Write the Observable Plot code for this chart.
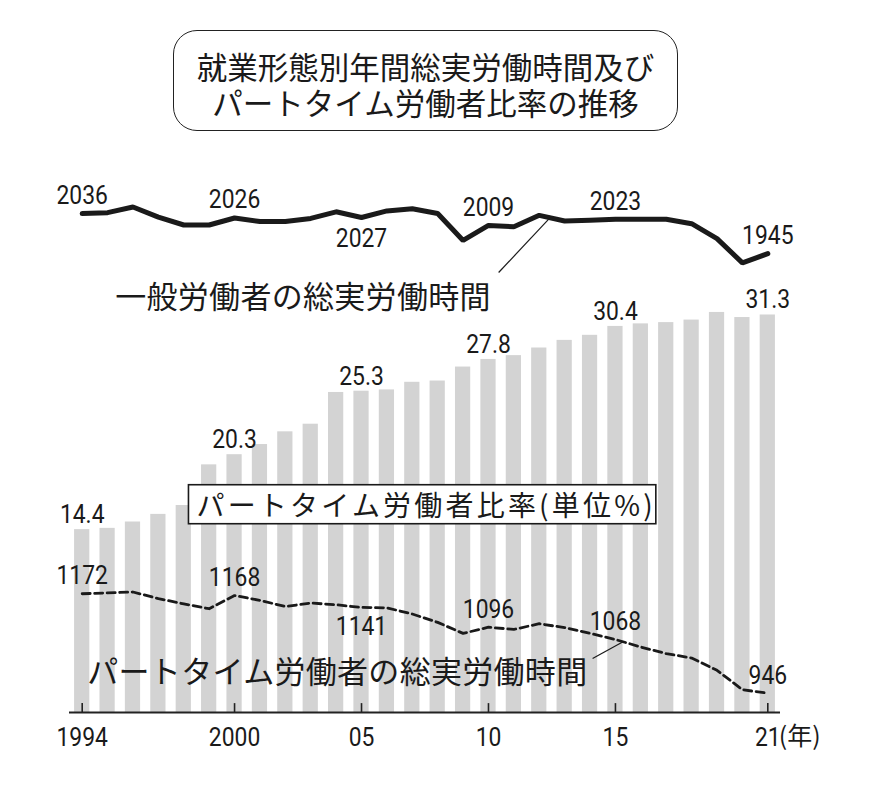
<!DOCTYPE html>
<html>
<head>
<meta charset="utf-8">
<script src="https://cdn.jsdelivr.net/npm/d3@7"></script>
<script src="https://cdn.jsdelivr.net/npm/@observablehq/plot@0.6"></script>
<style>
  html, body { margin: 0; padding: 0; background: #fff; }
  body { width: 870px; height: 786px; position: relative; overflow: hidden; }
  #title {
    position: absolute; left: 173px; top: 30px; width: 503px; height: 93px;
    border: 1.6px solid #222; border-radius: 24px; box-sizing: content-box;
    font-family: "Noto Sans CJK JP", sans-serif; font-size: 30.5px; line-height: 36px;
    color: #1a1a1a; text-align: center; padding-top: 6px;
    display: flex; flex-direction: column; justify-content: center;
  }
  #title div { height: 36px; line-height: 36px; white-space: nowrap; }
  #chart { position: absolute; left: 0; top: 140px; }
</style>
</head>
<body>
<div id="title"><div>就業形態別年間総実労働時間及び</div><div>パートタイム労働者比率の推移</div></div>
<div id="chart"></div>
<script>
// ---- data ----
const years = d3.range(1994, 2022);
const partRatio = [14.4, 14.5, 15.0, 15.6, 16.3, 19.5, 20.3, 21.1, 22.1, 22.7,
                   25.2, 25.3, 25.4, 26.0, 26.1, 27.2, 27.8, 28.1, 28.7, 29.3,
                   29.7, 30.4, 30.6, 30.7, 30.9, 31.5, 31.1, 31.3];
const generalHours = [2036, 2038, 2051, 2028, 2010, 2010, 2026, 2018, 2018, 2025,
                      2040, 2027, 2042, 2047, 2036, 1975, 2009, 2006, 2032, 2019,
                      2021, 2023, 2023, 2023, 2013, 1979, 1924, 1945];
const partHours = [1172, 1174, 1176, 1161, 1149, 1138, 1168, 1157, 1143, 1151,
                   1147, 1141, 1140, 1126, 1107, 1082, 1096, 1091, 1104, 1095,
                   1082, 1068, 1051, 1036, 1026, 998, 954, 946];
const ratioLabelYears = [1994, 2000, 2005, 2010, 2015, 2021];
const generalLabelYearsAbove = [1994, 2000, 2010, 2015, 2021];
const generalLabelYearsBelow = [2005];
const partLabelYearsAbove = [1994, 2000, 2010, 2015, 2021];
const partLabelYearsBelow = [2005];
const tickYears = [1994, 2000, 2005, 2010, 2015, 2021];
const tickLabels = ["1994", "2000", "05", "10", "15", "21"];

// annotation text anchors (year, hours / percent)
const generalTitle = {text: "一般労働者の総実労働時間", year: 1995.3, hours: 1843};
const partTitle = {text: "パートタイム労働者の総実労働時間", year: 1994.2, hours: 991};
const ratioTitle = {text: "パートタイム労働者比率(単位%)", year: 1998.5, pct: 16.2};
const generalLeader = {x1: 2010.4, h1: 1902, x2: 2012.4, h2: 2025};
const partLeader = {x1: 2014.1, h1: 1025, x2: 2015.3, h2: 1063};

// hours share one linear axis with the percent bars
const H0 = 902.2, K = 28.86;
const hy = h => (h - H0) / K;

const rows = years.map((y, i) => ({year: y, pct: partRatio[i], gen: generalHours[i], part: partHours[i]}));
const byYear = new Map(rows.map(r => [r.year, r]));
const pick = ys => ys.map(y => byYear.get(y));

const num = 'Roboto, "Liberation Sans", sans-serif';
const jp = '"Noto Sans CJK JP", sans-serif';
const ink = "#1a1a1a";
const numOpts = {fontSize: 26, fill: ink, className: "num"};

const chart = Plot.plot({
  width: 870,
  height: 646,
  marginLeft: 69,
  marginRight: 90,
  marginTop: 38.6,
  marginBottom: 74,
  x: {type: "linear", domain: [1993.5, 2021.5], axis: null},
  y: {domain: [0, 42], axis: null},
  style: {fontFamily: num, color: ink, background: "white"},
  marks: [
    Plot.rectY(rows, {x1: d => d.year - 0.3, x2: d => d.year + 0.3, y1: 0, y2: "pct", fill: "#d3d3d3"}),
    Plot.ruleY([0], {stroke: "#222", strokeWidth: 2}),
    Plot.ruleX(tickYears, {x: d => d, y1: 0, y2: 0.7, stroke: "#222", strokeWidth: 1.6}),
    Plot.text(tickYears, {x: d => d, y: 0, text: (d, i) => tickLabels[i], dy: 25, ...numOpts}),
    Plot.text(["(年)"], {x: 2021, y: 0, text: d => d, dy: 24, dx: 11, textAnchor: "start", fontSize: 25, fontFamily: jp, fill: ink}),
    // general worker line
    Plot.line(rows, {x: "year", y: d => hy(d.gen), stroke: ink, strokeWidth: 5, strokeLinejoin: "miter"}),
    // part-time line
    Plot.line(rows, {x: "year", y: d => hy(d.part), stroke: ink, strokeWidth: 2.8, strokeDasharray: "8,4.5"}),
    // leader lines
    Plot.link([generalLeader], {x1: "x1", y1: d => hy(d.h1), x2: "x2", y2: d => hy(d.h2), stroke: ink, strokeWidth: 1.2}),
    Plot.link([partLeader], {x1: "x1", y1: d => hy(d.h1), x2: "x2", y2: d => hy(d.h2), stroke: ink, strokeWidth: 1.2}),
    // value labels
    Plot.text(pick(ratioLabelYears), {x: "year", y: "pct", text: d => d.pct.toFixed(1), dy: -15, ...numOpts}),
    Plot.text(pick(generalLabelYearsAbove), {x: "year", y: d => hy(d.gen), text: d => String(d.gen), dy: -18, ...numOpts}),
    Plot.text(pick(generalLabelYearsBelow), {x: "year", y: d => hy(d.gen), text: d => String(d.gen), dy: 21, ...numOpts}),
    Plot.text(pick(partLabelYearsAbove), {x: "year", y: d => hy(d.part), text: d => String(d.part), dy: -18, ...numOpts}),
    Plot.text(pick(partLabelYearsBelow), {x: "year", y: d => hy(d.part), text: d => String(d.part), dy: 19, ...numOpts}),
    // series titles
    Plot.text([generalTitle], {x: "year", y: d => hy(d.hours), text: "text", textAnchor: "start", fontSize: 31, fontFamily: jp, fill: ink, className: "jp-title"}),
    Plot.text([partTitle], {x: "year", y: d => hy(d.hours), text: "text", textAnchor: "start", fontSize: 31, fontFamily: jp, fill: ink, className: "jp-title"}),
    Plot.text([ratioTitle], {x: "year", y: "pct", text: "text", textAnchor: "start", fontSize: 28, fontFamily: jp, fill: ink, className: "ratio-title"})
  ]
});
document.getElementById("chart").appendChild(chart);

// condensed look for the numerals
chart.querySelectorAll(".num text").forEach(t => {
  const tr = t.getAttribute("transform") || "";
  t.setAttribute("transform", tr + " scale(0.88,1)");
});
chart.querySelectorAll(".jp-title text").forEach(t => t.setAttribute("letter-spacing", "0.3"));

// white framed box behind the ratio title
const t = chart.querySelector(".ratio-title text");
if (t) {
  t.setAttribute("letter-spacing", "3.2");
  const b = t.getBBox();
  const r = document.createElementNS("http://www.w3.org/2000/svg", "rect");
  const tr = t.getAttribute("transform");
  if (tr) r.setAttribute("transform", tr);
  r.setAttribute("x", b.x - 8);
  r.setAttribute("y", b.y + 1);
  r.setAttribute("width", b.width + 8);
  r.setAttribute("height", b.height - 1);
  r.setAttribute("fill", "white");
  r.setAttribute("stroke", ink);
  r.setAttribute("stroke-width", "1.6");
  t.parentNode.insertBefore(r, t);
}
</script>
</body>
</html>
